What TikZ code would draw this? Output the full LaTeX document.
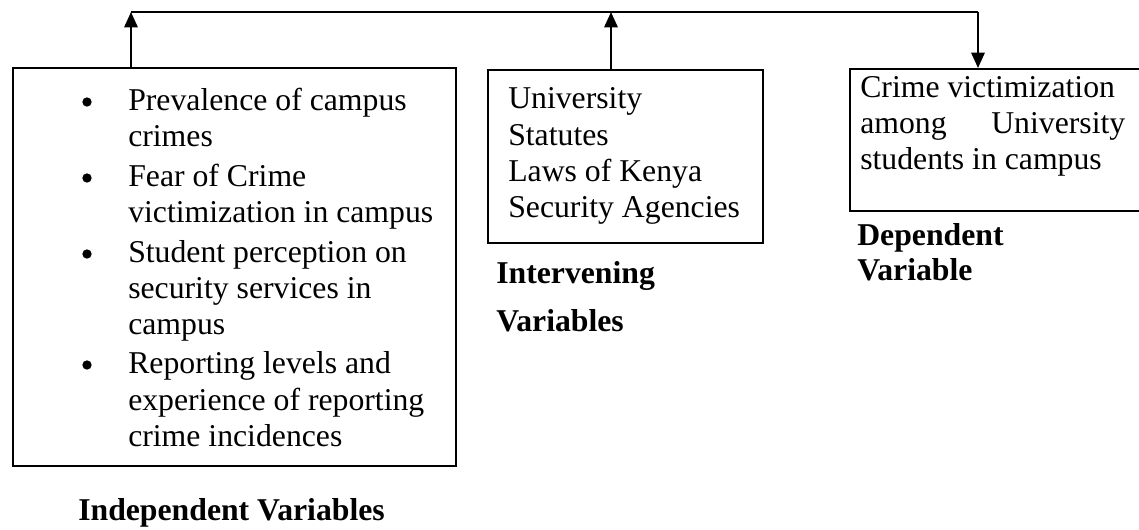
\documentclass[tikz,border=0pt]{standalone}
\usepackage{fontspec}
\setmainfont{Liberation Serif}
\usetikzlibrary{arrows.meta}
\begin{document}
\begin{tikzpicture}[x=0.75pt,y=-0.75pt,
  boxst/.style={draw,line width=1.4pt,inner sep=0pt,anchor=north west},
  txt/.style={anchor=base west,inner sep=0pt,font=\fontsize{23.8}{27}\selectfont},
  lbl/.style={anchor=base west,inner sep=0pt,font=\fontsize{23.8}{27}\selectfont\bfseries},
  bul/.style={circle,fill,inner sep=0pt,minimum size=7pt},
  conn/.style={line width=1.2pt},
  arr/.style={line width=1.5pt,-{Triangle[length=11.5pt,width=10pt]}}]
\useasboundingbox (0,0) rectangle (1139,529);
% boxes
\node[boxst,minimum width=443*0.75pt,minimum height=398*0.75pt] (b1) at (12,67) {};
\node[boxst,minimum width=275*0.75pt,minimum height=173*0.75pt] (b2) at (487,69) {};
\node[boxst,minimum width=300*0.75pt,minimum height=142*0.75pt] (b3) at (849,68) {};
% connector
\coordinate (t1) at (131,12);
\coordinate (t2) at (611,12);
\coordinate (t3) at (978,12);
\draw[conn] (t1) -- (t3);
\draw[arr] (b1.north -| t1) -- (t1);
\draw[arr] (b2.north -| t2) -- (t2);
\draw[arr] (t3) -- (b3.north -| t3);
% box 1 text
\node[bul] (k1) at (87,102) {};
\node[txt] (l1) at (128,110) {Prevalence of campus};
\node[txt] (l2) at (128,146) {crimes};
\node[bul] (k2) at (87,178) {};
\node[txt] (l3) at (128,186) {Fear of Crime};
\node[txt] (l4) at (128,222) {victimization in campus};
\node[bul] (k3) at (87,254) {};
\node[txt] (l5) at (128,262) {Student perception on};
\node[txt] (l6) at (128,298) {security services in};
\node[txt] (l7) at (128,334) {campus};
\node[bul] (k4) at (87,365) {};
\node[txt] (l8) at (128,373) {Reporting levels and};
\node[txt] (l9) at (128,410) {experience of reporting};
\node[txt] (l10) at (128,446) {crime incidences};
% box 2 text
\node[txt] (m1) at (508,108) {University};
\node[txt] (m2) at (508,145) {Statutes};
\node[txt] (m3) at (508,181) {Laws of Kenya};
\node[txt] (m4) at (508,217) {Security Agencies};
% box 3 text
\node[txt] (n1) at (860,97) {Crime victimization};
\node[txt] (n2) at (860,133) {\hbox to 198.75pt{among\hfill University}};
\node[txt] (n3) at (860,169) {students in campus};
% labels
\node[lbl] (iv1) at (496,283) {Intervening};
\node[lbl] (iv2) at (496,331) {Variables};
\node[lbl] (dv1) at (857,245) {Dependent};
\node[lbl] (dv2) at (857,280) {Variable};
\node[lbl] (inv) at (78,520) {Independent Variables};
\end{tikzpicture}
\end{document}
